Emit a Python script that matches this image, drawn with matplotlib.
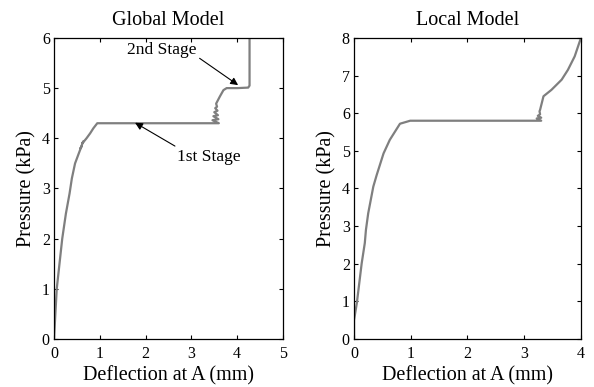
import matplotlib
matplotlib.use("Agg")
import matplotlib.pyplot as plt

plt.rcParams['font.family'] = ['Liberation Serif', 'DejaVu Serif']

# Global model curve
g_x = [0.0, 0.03, 0.06, 0.12, 0.18, 0.26, 0.34, 0.39, 0.46, 0.55, 0.60, 0.58, 0.64, 0.62, 0.71,
       0.79, 0.86, 0.945, 1.5, 2.5, 3.42, 3.60, 3.46, 3.59, 3.48, 3.58, 3.50, 3.57, 3.52, 3.56,
       3.54, 3.58, 3.62, 3.70, 3.77, 4.0, 4.24, 4.27, 4.27, 4.27]
g_y = [0.0, 0.5, 1.0, 1.5, 2.0, 2.5, 2.9, 3.2, 3.5, 3.72, 3.84, 3.80, 3.94, 3.90, 4.0,
       4.1, 4.2, 4.30, 4.30, 4.30, 4.30, 4.30, 4.36, 4.38, 4.44, 4.46, 4.52, 4.55, 4.60, 4.63,
       4.69, 4.76, 4.83, 4.96, 5.00, 5.00, 5.01, 5.05, 5.5, 6.0]

# Local model curve
l_x = [0.0, 0.0, 0.05, 0.135, 0.19, 0.21, 0.25, 0.34, 0.40, 0.52, 0.63, 0.81, 0.99, 1.5, 2.5,
       3.18, 3.30, 3.22, 3.30, 3.24, 3.28, 3.27, 3.28, 3.34, 3.48, 3.66, 3.77, 3.89, 4.0]
l_y = [0.0, 0.5, 0.96, 2.01, 2.55, 2.9, 3.34, 4.05, 4.36, 4.93, 5.29, 5.72, 5.80, 5.80, 5.80,
       5.80, 5.80, 5.86, 5.88, 5.93, 5.97, 6.05, 6.09, 6.45, 6.62, 6.89, 7.15, 7.51, 8.0]

line_color = '#7f7f7f'

fig = plt.figure(figsize=(5.94, 3.87), dpi=100)
ax1 = fig.add_axes([0.0909, 0.124, 0.3855, 0.778])
ax2 = fig.add_axes([0.596, 0.124, 0.382, 0.778])

ax1.plot(g_x, g_y, color=line_color, lw=1.6)
ax1.set_xlim(0, 5)
ax1.set_ylim(0, 6)
ax1.set_xticks(range(0, 6))
ax1.set_yticks(range(0, 7))
ax1.set_title('Global Model', fontsize=14.5, pad=9)
ax1.set_xlabel('Deflection at A (mm)', fontsize=14.5, labelpad=3)
ax1.set_ylabel('Pressure (kPa)', fontsize=14.5, labelpad=4)

ax1.annotate('2nd Stage', xy=(4.02, 5.06), xytext=(2.36, 5.76),
             fontsize=12.5, ha='center', va='center',
             arrowprops=dict(arrowstyle='-|>', color='black', lw=0.8,
                             shrinkA=0, shrinkB=0, mutation_scale=11,
                             relpos=(1.0, 0.1)))
ax1.annotate('1st Stage', xy=(1.77, 4.31), xytext=(3.37, 3.63),
             fontsize=12.5, ha='center', va='center',
             arrowprops=dict(arrowstyle='-|>', color='black', lw=0.8,
                             shrinkA=0, shrinkB=0, mutation_scale=11,
                             relpos=(0.05, 1.0)))

ax2.plot(l_x, l_y, color=line_color, lw=1.6)
ax2.set_xlim(0, 4)
ax2.set_ylim(0, 8)
ax2.set_xticks(range(0, 5))
ax2.set_yticks(range(0, 9))
ax2.set_title('Local Model', fontsize=14.5, pad=9)
ax2.set_xlabel('Deflection at A (mm)', fontsize=14.5, labelpad=3)
ax2.set_ylabel('Pressure (kPa)', fontsize=14.5, labelpad=4)

for ax in (ax1, ax2):
    ax.tick_params(direction='in', top=True, right=True, length=3,
                   labelsize=11.5, pad=3)
    ax.tick_params(axis='x', pad=5)
    for s in ax.spines.values():
        s.set_linewidth(0.9)

fig.savefig('out.png', dpi=100)
